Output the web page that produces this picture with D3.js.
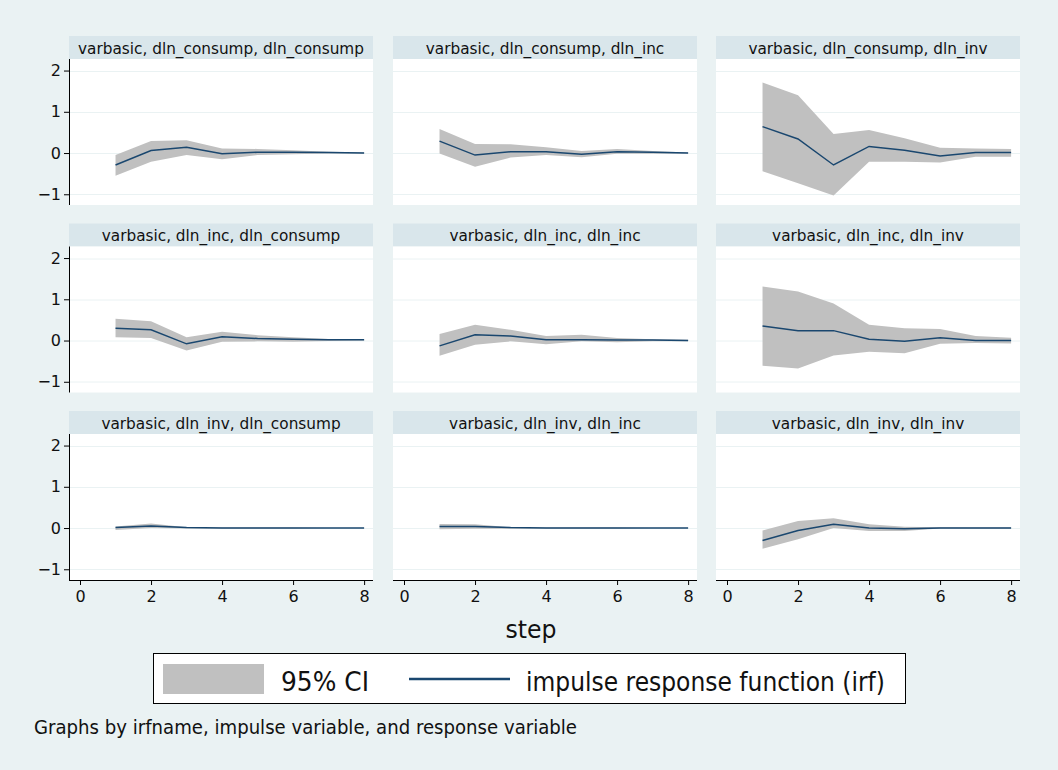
<!DOCTYPE html>
<html>
<head>
<meta charset="utf-8">
<script src="https://cdn.jsdelivr.net/npm/d3@7"></script>
<style>
  html, body { margin: 0; padding: 0; background: #eaf2f3; }
  svg { display: block; }
</style>
</head>
<body>
<svg id="chart" width="1058" height="770"></svg>
<script>
// ---------------- data ----------------
const steps = [1, 2, 3, 4, 5, 6, 7, 8];
const panelTitles = [
  "varbasic, dln_consump, dln_consump",
  "varbasic, dln_consump, dln_inc",
  "varbasic, dln_consump, dln_inv",
  "varbasic, dln_inc, dln_consump",
  "varbasic, dln_inc, dln_inc",
  "varbasic, dln_inc, dln_inv",
  "varbasic, dln_inv, dln_consump",
  "varbasic, dln_inv, dln_inc",
  "varbasic, dln_inv, dln_inv"
];
const irfValues = [
  [-0.29, 0.06, 0.14, -0.02, 0.02, 0.02, 0.01, 0.00],
  [0.29, -0.05, 0.03, 0.03, -0.03, 0.03, 0.02, 0.00],
  [0.64, 0.34, -0.29, 0.16, 0.07, -0.07, 0.01, 0.01],
  [0.30, 0.26, -0.08, 0.09, 0.05, 0.03, 0.02, 0.02],
  [-0.13, 0.14, 0.11, 0.02, 0.02, 0.01, 0.01, 0.00],
  [0.35, 0.24, 0.24, 0.03, -0.02, 0.07, 0.00, 0.00],
  [0.01, 0.05, 0.01, 0.00, 0.00, 0.00, 0.00, 0.00],
  [0.04, 0.04, 0.01, 0.00, 0.00, 0.00, 0.00, 0.00],
  [-0.30, -0.06, 0.09, 0.00, -0.02, 0.00, 0.00, 0.00]
];
const ciLower = [
  [-0.55, -0.21, -0.05, -0.15, -0.05, -0.03, -0.01, -0.01],
  [-0.01, -0.33, -0.11, -0.05, -0.10, -0.02, -0.02, -0.01],
  [-0.44, -0.73, -1.03, -0.21, -0.21, -0.23, -0.09, -0.09],
  [0.08, 0.06, -0.24, -0.03, -0.02, -0.03, -0.01, 0.00],
  [-0.37, -0.10, -0.02, -0.09, -0.02, -0.04, -0.02, -0.02],
  [-0.61, -0.68, -0.36, -0.27, -0.31, -0.08, -0.06, -0.07],
  [-0.05, 0.00, -0.01, -0.01, -0.01, -0.01, 0.00, 0.00],
  [-0.03, -0.02, -0.02, -0.01, -0.01, -0.01, 0.00, 0.00],
  [-0.50, -0.27, 0.00, -0.07, -0.07, -0.01, -0.01, -0.01]
];
const ciUpper = [
  [-0.05, 0.29, 0.31, 0.11, 0.10, 0.07, 0.03, 0.01],
  [0.58, 0.22, 0.21, 0.14, 0.05, 0.10, 0.05, 0.01],
  [1.71, 1.40, 0.46, 0.56, 0.36, 0.13, 0.11, 0.10],
  [0.53, 0.47, 0.08, 0.21, 0.13, 0.08, 0.04, 0.03],
  [0.16, 0.38, 0.26, 0.11, 0.14, 0.06, 0.03, 0.02],
  [1.31, 1.19, 0.90, 0.38, 0.30, 0.28, 0.11, 0.07],
  [0.04, 0.11, 0.02, 0.01, 0.01, 0.01, 0.00, 0.00],
  [0.10, 0.09, 0.02, 0.01, 0.01, 0.01, 0.00, 0.00],
  [-0.06, 0.17, 0.24, 0.09, 0.03, 0.02, 0.01, 0.01]
];
const xTicks = [0, 2, 4, 6, 8];
const yTicks = [-1, 0, 1, 2];
const legendLabels = ["95% CI", "impulse response function (irf)"];
const xTitle = "step";
const noteText = "Graphs by irfname, impulse variable, and response variable";

// ---------------- layout ----------------
const colors = { bg: "#eaf2f3", strip: "#d9e6eb", grid: "#eaf2f3", ci: "#c0c0c0", line: "#1a476f" };
const font = "DejaVu Sans, sans-serif";
const colLeft = [69, 393, 716];
const panelW = 304;
const rowTop = [36, 223.5, 411];
const stripH = 23;
const plotH = 146;

const svg = d3.select("#chart");
svg.append("rect").attr("width", 1058).attr("height", 770).attr("fill", colors.bg);

const x = d3.scaleLinear().domain([-0.31, 8.25]).range([0, panelW]);
const y = d3.scaleLinear().domain([-1.26, 2.28]).range([plotH, 0]);

panelTitles.forEach((title, i) => {
  const r = Math.floor(i / 3), c = i % 3;
  const g = svg.append("g").attr("transform", `translate(${colLeft[c]},${rowTop[r]})`);
  // strip
  g.append("rect").attr("x", 0).attr("y", 0).attr("width", panelW).attr("height", stripH).attr("fill", colors.strip);
  g.append("text").attr("x", panelW / 2).attr("y", 17.5).attr("text-anchor", "middle")
    .attr("font-family", font).attr("font-size", 15.3).attr("fill", "#111").text(title);
  const p = g.append("g").attr("transform", `translate(0,${stripH})`);
  p.append("rect").attr("width", panelW).attr("height", plotH).attr("fill", "#fff");
  // grid
  p.selectAll("line.grid").data(yTicks).enter().append("line")
    .attr("x1", 0).attr("x2", panelW)
    .attr("y1", d => Math.round(y(d)) + 0.5).attr("y2", d => Math.round(y(d)) + 0.5)
    .attr("stroke", colors.grid).attr("stroke-width", 1);
  const data = steps.map((s, k) => ({ s, v: irfValues[i][k], lo: ciLower[i][k], hi: ciUpper[i][k] }));
  p.append("path").datum(data)
    .attr("d", d3.area().x(d => x(d.s)).y0(d => y(d.lo)).y1(d => y(d.hi)))
    .attr("fill", colors.ci);
  p.append("path").datum(data)
    .attr("d", d3.line().x(d => x(d.s)).y(d => y(d.v)))
    .attr("fill", "none").attr("stroke", colors.line).attr("stroke-width", 1.5);
  if (c === 0) {
    const ax = p.append("g").call(d3.axisLeft(y).tickValues(yTicks).tickSize(5).tickPadding(3).tickFormat(d3.format("d")));
    ax.select(".domain").attr("d", `M0.5,0V${plotH}`).attr("stroke", "#000");
    ax.selectAll("text").attr("font-family", font).attr("font-size", 16).attr("fill", "#111");
    ax.selectAll("line").attr("stroke", "#000");
  }
  if (r === 2) {
    const ax = p.append("g").attr("transform", `translate(0,${plotH})`)
      .call(d3.axisBottom(x).tickValues(xTicks).tickSize(5).tickPadding(6).tickFormat(d3.format("d")));
    ax.select(".domain").attr("d", `M0,0.5H${panelW}`).attr("stroke", "#000");
    ax.selectAll("text").attr("font-family", font).attr("font-size", 16).attr("fill", "#111");
    ax.selectAll("line").attr("stroke", "#000");
  }
});

// x title
svg.append("text").attr("x", 531).attr("y", 638).attr("text-anchor", "middle")
  .attr("font-family", font).attr("font-size", 25).attr("fill", "#111")
  .attr("textLength", 51).attr("lengthAdjust", "spacingAndGlyphs").text(xTitle);

// legend
const lg = svg.append("g");
lg.append("rect").attr("x", 153.5).attr("y", 653.5).attr("width", 752).attr("height", 50)
  .attr("fill", "#fff").attr("stroke", "#000").attr("stroke-width", 1);
lg.append("rect").attr("x", 163).attr("y", 664).attr("width", 101).attr("height", 30).attr("fill", colors.ci);
lg.append("text").attr("x", 281).attr("y", 691).attr("font-family", font).attr("font-size", 26).attr("fill", "#111")
  .attr("textLength", 88).attr("lengthAdjust", "spacingAndGlyphs").text(legendLabels[0]);
lg.append("line").attr("x1", 409).attr("x2", 510).attr("y1", 679).attr("y2", 679)
  .attr("stroke", colors.line).attr("stroke-width", 2.5);
lg.append("text").attr("x", 526).attr("y", 691).attr("font-family", font).attr("font-size", 26).attr("fill", "#111")
  .attr("textLength", 359).attr("lengthAdjust", "spacingAndGlyphs").text(legendLabels[1]);

// note
svg.append("text").attr("x", 34).attr("y", 734).attr("font-family", font).attr("font-size", 20).attr("fill", "#111")
  .attr("textLength", 543).attr("lengthAdjust", "spacingAndGlyphs").text(noteText);
</script>
</body>
</html>
